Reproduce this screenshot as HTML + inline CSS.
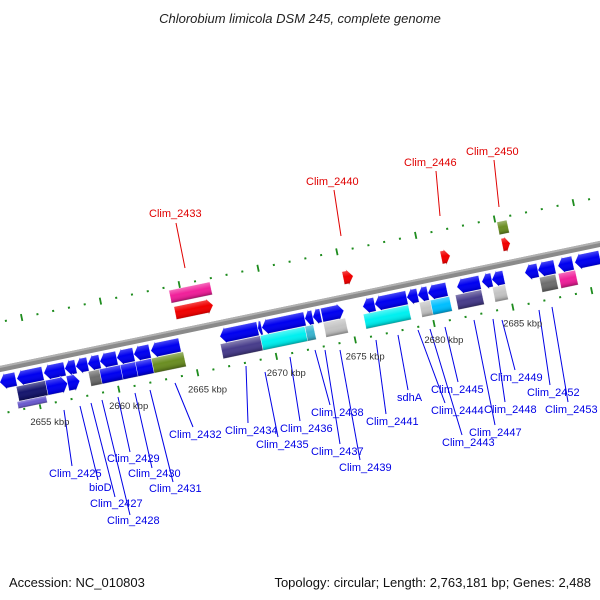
<!DOCTYPE html>
<html><head><meta charset="utf-8"><style>
html,body{margin:0;padding:0;background:#fff;}
svg{display:block;font-family:"Liberation Sans",sans-serif;}
</style></head><body>
<svg id="map" width="600" height="600" viewBox="0 0 600 600" xmlns="http://www.w3.org/2000/svg">
<defs>
<linearGradient id="shade" x1="0" y1="0" x2="0" y2="1">
<stop offset="0" stop-color="#fff" stop-opacity="0.35"/>
<stop offset="0.45" stop-color="#fff" stop-opacity="0"/>
<stop offset="0.8" stop-color="#000" stop-opacity="0.1"/>
<stop offset="1" stop-color="#000" stop-opacity="0.35"/>
</linearGradient>
</defs>
<text x="300" y="23" text-anchor="middle" font-size="13" font-style="italic" fill="#222">Chlorobium limicola DSM 245, complete genome</text>
<g id="track" transform="translate(0,369) rotate(-11.77)"></g>
<g id="labels" font-size="11"></g>
<text x="9" y="587" font-size="13" fill="#111">Accession: NC_010803</text>
<text x="591" y="587" text-anchor="end" font-size="13" fill="#111">Topology: circular; Length: 2,763,181 bp; Genes: 2,488</text>
</svg>
<script>
// ---- data ----
const geneStart = [2652.85,2653.93,2655.64,2656.97,2657.67,2658.43,2659.20,2660.27,2661.35,2662.43,2666.81,2669.22,2669.47,2672.20,2672.71,2673.28,2675.88,2676.64,2678.67,2679.37,2680.01,2681.85,2683.43,2684.07,2686.16,2686.99,2688.26,2689.33,
 2653.79,2655.63,2656.96,2658.36,2659.06,2660.39,2661.34,2662.36,2666.74,2669.27,2672.10,2673.27,2675.81,2679.36,2680.06,2681.65,2684.00,2686.98,2688.18,
 2653.65,
 2664.39,2675.05,2681.27,2685.14,
 2664.29,2685.10];
const geneEnd = [2653.87,2655.58,2656.97,2657.67,2658.43,2659.20,2660.27,2661.35,2662.37,2664.27,2669.22,2669.47,2672.20,2672.71,2673.22,2674.68,2676.64,2678.67,2679.37,2680.01,2681.21,2683.31,2684.07,2684.83,2686.99,2688.06,2689.21,2690.92,
 2655.63,2656.96,2657.73,2659.06,2660.39,2661.34,2662.36,2664.39,2669.27,2672.10,2672.64,2674.67,2678.67,2680.06,2681.27,2683.30,2684.82,2688.00,2689.26,
 2655.49,
 2666.80,2675.69,2681.84,2685.65,
 2666.89,2685.73];
const geneRow = [0,0,0,0,0,0,0,0,0,0,0,0,0,0,0,0,0,0,0,0,0,0,0,0,0,0,0,0,
 1,1,1,1,1,1,1,1,1,1,1,1,1,1,1,1,1,1,1,
 2,
 3,3,3,3,
 4,4];
const geneDir = ["L","L","L","L","L","L","L","L","L","L","L","L","L","L","L","R","L","L","L","L","L","L","L","L","L","L","L","L",
 "N","R","R","N","N","N","N","N","N","N","N","N","N","N","N","N","N","N","N",
 "N",
 "R","R","R","R",
 "N","N"];
const geneColor = Array(28).fill("#0000f0").concat(
 ["#16166e","#0000f0","#0000f0","#6e6e6e","#0000f0","#0000f0","#0000f0","#6b8e23","#483d8b","#00f0f0","#3bb5d0","#c4c4c4","#00f0f0","#c4c4c4","#00bfff","#483d8b","#c4c4c4","#6e6e6e","#f0209a"],
 ["#6a5acd"],
 ["#f00000","#f00000","#f00000","#f00000"],
 ["#f0209a","#6b8e23"]);
const kbpTicks = [];
for (let k = 2652; k <= 2692; k++) kbpTicks.push(k);
const kbpLabels = [2655,2660,2665,2670,2675,2680,2685];

// ---- axis ----
const rowV = [13, 28, 39, -19, -36];
const rowH = [14, 15, 7, 13, 13];
const TH = 11.77*Math.PI/180;
function U(k){ return 31.7 + (k-2655)*16.1; }
function toScreen(u,v){ return [u*Math.cos(TH)+v*Math.sin(TH), 369 - u*Math.sin(TH) + v*Math.cos(TH)]; }

const NS = "http://www.w3.org/2000/svg";
const track = document.getElementById('track');
function mk(tag, attrs, parent){ const e = document.createElementNS(NS, tag); for (const a in attrs) e.setAttribute(a, attrs[a]); (parent||track).appendChild(e); return e; }

// backbone
let bb = mk('rect',{x:-60,y:-3,width:760,height:6,fill:'#8a8a8a'});


let bb2 = mk('rect',{x:-60,y:-3,width:760,height:2,fill:'#b0b0b0'});



// ticks
kbpTicks.forEach(k => {
  const u = U(k), major = (k % 5 === 0);
  [-46, 44].forEach(v => {
    const t = mk('rect', major ? {x:u-0.9, y:v-3.5, width:1.8, height:7, fill:'#1e8c1e'} : {x:u-1, y:v-1, width:2, height:2, fill:'#1e8c1e'});
    
    
  });
});

// genes
for (let i = 0; i < geneStart.length; i++) {
  const u0 = U(geneStart[i]), u1 = U(geneEnd[i]);
  const v = rowV[geneRow[i]], h = rowH[geneRow[i]];
  const top = v - h/2, bot = v + h/2;
  const len = u1 - u0, head = Math.min(6, len*0.6);
  let pts;
  if (geneDir[i] === "L") pts = [[u0,v],[u0+head,top-1.5],[u0+head,top],[u1,top],[u1,bot],[u0+head,bot],[u0+head,bot+1.5]];
  else if (geneDir[i] === "R") pts = [[u0,top],[u1-head,top],[u1-head,top-1.5],[u1,v],[u1-head,bot+1.5],[u1-head,bot],[u0,bot]];
  else pts = [[u0,top],[u1,top],[u1,bot],[u0,bot]];
  const ps = pts.map(p => p.join(',')).join(' ');
  const g = mk('polygon', {points: ps, fill: geneColor[i], stroke: '#ffffff', 'stroke-width': 0.4});
  
  
  const s = mk('polygon', {points: ps, fill: 'url(#shade)'});
  
  
}

// kbp labels (screen-aligned)
const svg = document.getElementById('map');
kbpLabels.forEach(k => {
  const p = toScreen(U(k), 63);
  const t = mk('text', {x: p[0]+6, y: p[1]+1, 'text-anchor':'middle', 'font-size':'9.5', fill:'#333'}, svg);
  t.textContent = k + ' kbp';
  
  
});

// feature labels
const labelText = ["Clim_2433","Clim_2440","Clim_2446","Clim_2450",
 "Clim_2425","bioD","Clim_2427","Clim_2428","Clim_2429","Clim_2430","Clim_2431","Clim_2432",
 "Clim_2434","Clim_2435","Clim_2436","Clim_2438","Clim_2437","Clim_2439","Clim_2441","sdhA",
 "Clim_2444","Clim_2443","Clim_2445","Clim_2447","Clim_2448","Clim_2449","Clim_2452","Clim_2453"];
const lab = [
 [149,217,176,223,185,268],[306,185,334,190,341,236],[404,166,436,171,440,216],[466,155,494,160,499,207],
 [49,477,72,466,64,410],[89,491,98,480,80,406],[90,507,115,497,91,403],[107,524,130,515,102,400],
 [107,462,130,452,118,397],[128,477,152,468,135,393],[149,492,173,482,150,390],[169,438,193,427,175,383],
 [225,434,248,423,246,366],[256,448,278,437,265,372],[280,432,300,421,290,357],[311,416,330,405,315,350],
 [311,455,340,444,325,350],[339,471,360,460,340,350],[366,425,386,414,376,340],[397,401,408,390,398,335],
 [431,414,445,403,418,330],[442,446,462,435,430,329],[431,393,458,382,445,327],[469,436,495,425,474,320],
 [484,413,505,402,493,319],[490,381,515,370,502,320],[527,396,550,385,539,310],[545,413,568,402,552,307]];
const lg = document.getElementById('labels');
labelText.forEach((name, i) => {
  const [tx,ty,x1,y1,x2,y2] = lab[i];
  const col = i < 4 ? '#e00000' : '#0000e6';
  const l = mk('line', {x1:x1, y1:y1, x2:x2, y2:y2, stroke: col, 'stroke-width': 1}, lg);
  
  
  const t = mk('text', {x: tx, y: ty, fill: col}, lg);
  t.textContent = name;
  
  
});
</script>
</body></html>
